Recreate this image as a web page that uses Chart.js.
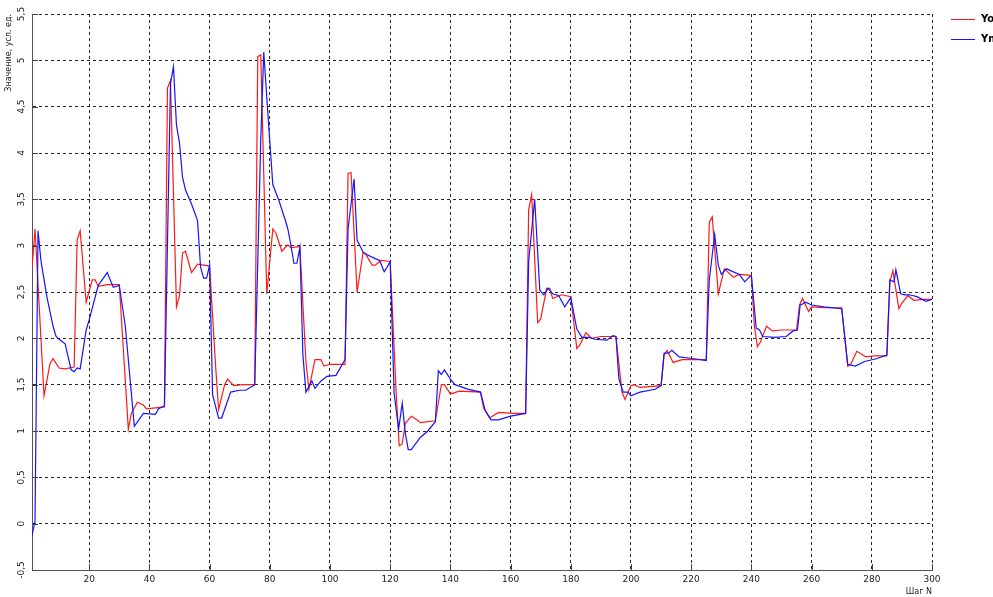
<!DOCTYPE html>
<html>
<head>
<meta charset="utf-8">
<script src="https://cdn.jsdelivr.net/npm/chart.js@4.4.1/dist/chart.umd.min.js"></script>
<style>
  html, body { margin: 0; padding: 0; background: #fff; overflow: hidden; }
  #wrap { position: relative; width: 993px; height: 597px; overflow: hidden; }
  #legend { position: absolute; left: 951px; top: 12px; font: bold 10px "DejaVu Sans", Verdana, sans-serif; color: #000; white-space: nowrap; }
  #legend div { height: 20px; position: relative; }
  #legend span.ln { position: absolute; left: 0; top: 7px; width: 24px; height: 1px; }
  #legend span.tx { position: absolute; left: 30px; top: 1px; }
</style>
</head>
<body>
<div id="wrap">
  <canvas id="chart" width="993" height="597"></canvas>
  <div id="legend"></div>
</div>
<script>
// шаги и значения выхода объекта (y0)
const stepsY0 = [1, 2, 5, 7, 8, 10, 12, 15, 16, 17, 19, 21, 22, 23, 26, 30, 33, 34, 36, 38, 39, 45, 46, 47, 49, 50, 51, 52, 54, 56, 60,
  62, 63, 65, 66, 68, 71, 75, 76, 77, 79, 81, 82, 84, 86, 87, 90, 92, 93, 95, 97, 98, 100, 105, 106, 107, 109, 111, 112, 114, 115, 117, 120,
  122, 123, 124, 125, 127, 129, 130, 135, 137, 138, 140, 143, 150, 151, 153, 156, 161, 165, 166, 167, 169, 170, 172, 173, 174, 177, 180,
  182, 183, 185, 187, 190, 195, 197, 198, 200, 201, 203, 210, 211, 212, 214, 217, 225, 226, 227, 229, 231, 232, 234, 236, 240,
  241, 242, 243, 245, 247, 250, 255, 256, 257, 259, 260, 264, 270, 272, 273, 275, 278, 281, 285, 286, 287, 289, 290, 292, 294, 297, 300]
const valuesY0 = [2.75, 3.18, 1.38, 1.73, 1.78, 1.68, 1.67, 1.69, 3.06, 3.16, 2.39, 2.63, 2.63, 2.56, 2.58, 2.58, 1.02, 1.19, 1.31, 1.28, 1.24, 1.26, 4.7, 4.78, 2.34, 2.46, 2.92, 2.94, 2.71, 2.8, 2.78,
  1.7, 1.23, 1.5, 1.56, 1.49, 1.5, 1.5, 5.04, 5.06, 2.48, 3.18, 3.14, 2.94, 3.01, 2.98, 2.99, 1.75, 1.45, 1.77, 1.77, 1.7, 1.72, 1.72, 3.78, 3.79, 2.5, 2.93, 2.9, 2.79, 2.79, 2.84, 2.83,
  1.4, 0.84, 0.86, 1.08, 1.16, 1.12, 1.09, 1.11, 1.5, 1.5, 1.4, 1.43, 1.42, 1.25, 1.14, 1.2, 1.19, 1.19, 3.39, 3.55, 2.17, 2.21, 2.54, 2.54, 2.43, 2.47, 2.45,
  1.89, 1.93, 2.06, 2.0, 2.02, 2.02, 1.42, 1.34, 1.49, 1.5, 1.47, 1.49, 1.82, 1.87, 1.74, 1.77, 1.77, 3.25, 3.31, 2.48, 2.75, 2.72, 2.66, 2.69, 2.68,
  2.13, 1.91, 1.96, 2.13, 2.08, 2.09, 2.09, 2.36, 2.43, 2.29, 2.34, 2.33, 2.33, 1.7, 1.72, 1.86, 1.8, 1.81, 1.81, 2.61, 2.73, 2.32, 2.38, 2.46, 2.41, 2.42, 2.42]

// шаги и значения выхода модели (ym)
const stepsYm = [1, 2, 3, 4, 6, 8, 9, 10, 12, 14, 15, 16, 17, 19, 20, 23, 26, 28, 30, 32, 35, 38, 42, 43, 45, 47, 48, 49, 50, 51, 52, 54, 56, 57, 58, 59, 60,
  61, 63, 64, 67, 70, 72, 75, 77, 78, 79.5, 81, 83, 85, 86, 87, 88, 89, 90, 91, 92, 94, 95, 97, 99, 102, 105, 106, 108, 109, 111, 112.5, 115, 116.5, 118, 119, 120,
  121.3, 122.8, 124, 125, 126, 127, 130, 132.5, 135, 136, 137, 138, 140, 141.5, 146, 150, 151.5, 153.5, 156, 160, 165, 166, 168, 169.7, 171, 172.5, 174, 176, 178, 180,
  182, 183.7, 186, 188, 192, 194, 195, 196, 197.4, 199, 200, 203, 208, 210, 211, 212.5, 213.6, 216, 221, 225, 226, 227.8, 229, 230, 231.7, 236, 237.8, 239.5, 240,
  241.6, 242.7, 243.8, 247.7, 251.6, 253.8, 255.3, 256.2, 257, 258, 260, 264, 270, 272, 274.5, 277.6, 281.5, 285, 286, 287.4, 288, 289.6, 291, 292.5, 295, 298, 300]
const valuesYm = [-0.13, 0.03, 3.16, 2.83, 2.44, 2.13, 2.02, 1.99, 1.94, 1.66, 1.64, 1.68, 1.67, 2.09, 2.2, 2.57, 2.71, 2.55, 2.57, 2.13, 1.05, 1.19, 1.18, 1.24, 1.27, 4.75, 4.93, 4.3, 4.11, 3.74, 3.6, 3.45, 3.27, 2.77, 2.65, 2.65, 2.79,
  1.39, 1.14, 1.14, 1.42, 1.44, 1.44, 1.5, 4.14, 5.09, 4.36, 3.66, 3.49, 3.29, 3.18, 3.01, 2.81, 2.81, 2.98, 1.82, 1.42, 1.54, 1.46, 1.54, 1.59, 1.6, 1.77, 3.18, 3.72, 3.06, 2.93, 2.9, 2.86, 2.84, 2.72, 2.77, 2.83,
  1.41, 1.02, 1.3, 0.98, 0.8, 0.8, 0.93, 1.0, 1.1, 1.65, 1.61, 1.66, 1.56, 1.5, 1.45, 1.42, 1.23, 1.12, 1.12, 1.16, 1.19, 2.83, 3.5, 2.52, 2.47, 2.54, 2.48, 2.46, 2.34, 2.44,
  2.1, 2.01, 2.01, 1.99, 1.98, 2.03, 2.02, 1.56, 1.42, 1.42, 1.38, 1.42, 1.45, 1.49, 1.84, 1.84, 1.87, 1.8, 1.78, 1.76, 2.63, 3.12, 2.79, 2.69, 2.75, 2.69, 2.61, 2.67, 2.67,
  2.11, 2.09, 2.02, 2.01, 2.02, 2.08, 2.09, 2.36, 2.37, 2.39, 2.36, 2.34, 2.32, 1.72, 1.7, 1.75, 1.78, 1.82, 2.63, 2.61, 2.74, 2.48, 2.47, 2.47, 2.45, 2.4, 2.42]

const xTickValues = [20, 40, 60, 80, 100, 120, 140, 160, 180, 200, 220, 240, 260, 280, 300]
const yTickValues = [-0.5, 0, 0.5, 1, 1.5, 2, 2.5, 3, 3.5, 4, 4.5, 5, 5.5]
const seriesNames = ['Yo', 'Ym']
const seriesColors = ['rgb(255, 25, 25)', 'rgb(20, 20, 255)']

const toPoints = (xs, ys) => xs.map((x, i) => ({ x: x, y: ys[i] }))

// короткие риски внутрь области графика
const innerTicks = {
  id: 'innerTicks',
  afterDraw(chart) {
    const ctx = chart.ctx
    const area = chart.chartArea
    const sx = chart.scales.x
    const sy = chart.scales.y
    ctx.save()
    ctx.strokeStyle = '#444'
    ctx.lineWidth = 1
    ctx.beginPath()
    xTickValues.forEach(v => {
      const px = Math.round(sx.getPixelForValue(v)) + 0.5
      ctx.moveTo(px, area.bottom)
      ctx.lineTo(px, area.bottom - 6)
    })
    yTickValues.forEach(v => {
      const py = Math.round(sy.getPixelForValue(v)) + 0.5
      ctx.moveTo(area.left, py)
      ctx.lineTo(area.left + 6, py)
    })
    ctx.stroke()
    ctx.restore()
  }
}

Chart.defaults.font.family = '"DejaVu Sans", Verdana, sans-serif'
Chart.defaults.font.size = 9
Chart.defaults.color = '#222'

const gridDash = {
  color: 'rgba(0, 0, 0, 0.85)',
  lineWidth: 1,
  drawTicks: false
}

const ctx = document.getElementById('chart')
new Chart(ctx, {
  type: 'line',
  data: {
    datasets: [{
      label: seriesNames[0],
      data: toPoints(stepsY0, valuesY0),
      borderColor: seriesColors[0],
      borderWidth: 1.2,
      order: 2
    }, {
      label: seriesNames[1],
      data: toPoints(stepsYm, valuesYm),
      borderColor: seriesColors[1],
      borderWidth: 1.2,
      order: 1
    }]
  },
  options: {
    responsive: false,
    animation: false,
    elements: { point: { radius: 0 }, line: { tension: 0 } },
    layout: { padding: { top: 14, right: 61, bottom: 0, left: 0 } },
    plugins: { legend: { display: false }, tooltip: { enabled: false } },
    scales: {
      x: {
        type: 'linear',
        min: 1,
        max: 300,
        afterBuildTicks: s => { s.ticks = xTickValues.map(v => ({ value: v })) },
        afterFit: s => { s.height = 27 },
        ticks: { padding: 4, maxRotation: 0, autoSkip: false },
        grid: gridDash,
        border: { display: true, color: '#555', width: 1, dash: [3, 3] },
        title: { display: true, text: 'Шаг N', align: 'end', font: { size: 8 }, padding: { top: 0, bottom: 0 } }
      },
      y: {
        type: 'linear',
        min: -0.5,
        max: 5.5,
        afterBuildTicks: s => { s.ticks = yTickValues.map(v => ({ value: v })) },
        afterFit: s => { s.width = 32 },
        ticks: {
          minRotation: 90,
          maxRotation: 90,
          crossAlign: 'center',
          padding: 2,
          autoSkip: false,
          callback: v => String(v).replace('.', ',')
        },
        grid: gridDash,
        border: { display: true, color: '#555', width: 1, dash: [3, 3] },
        title: { display: true, text: 'Значение, усл. ед.', align: 'end', font: { size: 8 }, padding: { top: 4, bottom: 0 } }
      }
    }
  },
  plugins: [innerTicks]
})

// легенда справа сверху
const legendBox = document.getElementById('legend')
seriesNames.forEach((name, i) => {
  const row = document.createElement('div')
  row.innerHTML = `<span class="ln" style="background:${seriesColors[i]}"></span><span class="tx">${name}</span>`
  legendBox.append(row)
})
</script>
</body>
</html>
